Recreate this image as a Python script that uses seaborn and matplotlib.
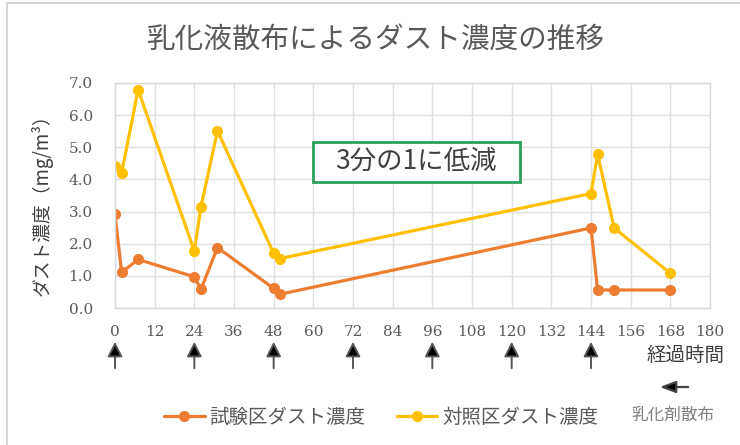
import numpy as np
import pandas as pd
import matplotlib
matplotlib.use("Agg")
import matplotlib.pyplot as plt
import seaborn as sns
from matplotlib.patches import Rectangle
from matplotlib.lines import Line2D

# ---- data ----
hours = [0, 2, 7, 24, 26, 31, 48, 50, 144, 146, 151, 168]
test_dust = [2.92, 1.11, 1.51, 0.97, 0.58, 1.88, 0.61, 0.43, 2.49, 0.56, 0.56, 0.56]
control_dust = [4.41, 4.20, 6.79, 1.77, 3.15, 5.51, 1.70, 1.54, 3.56, 4.78, 2.49, 1.08]
series_names = ["試験区ダスト濃度", "対照区ダスト濃度"]
x_ticks = list(range(0, 181, 12))
y_ticks = [0, 1, 2, 3, 4, 5, 6, 7]
spray_hours = [0, 24, 48, 72, 96, 120, 144]

title = "乳化液散布によるダスト濃度の推移"
y_label = "ダスト濃度（mg/m³）"
x_label = "経過時間"
note = "3分の1に低減"
spray_label = "乳化剤散布"

sns.set_theme(style="whitegrid")
# serif default (tick labels); CJK texts name their family explicitly
plt.rcParams['font.family'] = ['DejaVu Serif', 'Noto Sans CJK JP']
CJK = ['Noto Sans CJK JP', 'DejaVu Sans']

df = pd.DataFrame({
    "hours": hours * 2,
    "value": test_dust + control_dust,
    "series": [series_names[0]] * len(hours) + [series_names[1]] * len(hours),
})

W, H = 740, 445
fig = plt.figure(figsize=(W / 100, H / 100), dpi=100)
ax = fig.add_axes([115 / W, 1 - 308 / H, (710 - 115) / W, (308 - 83) / H])

palette = {series_names[0]: "#ED7D31", series_names[1]: "#FFC000"}
sns.lineplot(data=df, x="hours", y="value", hue="series", palette=palette,
             marker="o", markersize=8, markeredgewidth=0, linewidth=2.3,
             ax=ax, legend=False, sort=False)

ax.set_xlim(0, 180)
ax.set_ylim(0, 7)
ax.set_xticks(x_ticks)
ax.set_yticks(y_ticks)
ax.set_yticklabels([f"{v:.1f}" for v in y_ticks])
ax.set_xticklabels([str(v) for v in x_ticks])
ax.tick_params(axis="both", labelsize=11, labelcolor="#595959", length=0)
ax.tick_params(axis="x", pad=12)
ax.tick_params(axis="y", pad=16)
ax.grid(True, color="#e0e0e0", linewidth=1)
for s in ax.spines.values():
    s.set_color("#d9d9d9")
    s.set_linewidth(1)
ax.set_xlabel("")
ax.set_ylabel("")

# title
fig.text(376 / W, 1 - 40 / H, title, ha="center", va="center", fontsize=20.6, color="#595959", family=CJK)
# y label
fig.text(42 / W, 1 - 200 / H, y_label, ha="center", va="center", rotation=90, fontsize=13.5,
         color="#404040", family=CJK)
# x label
fig.text(725 / W, 1 - 355 / H, x_label, ha="right", va="center", fontsize=14, color="#404040", family=CJK)

# note box
fig.patches.append(Rectangle((313 / W, 1 - 182 / H), (520 - 313) / W, (182 - 142) / H,
                             transform=fig.transFigure, facecolor="white",
                             edgecolor="#2AA05A", linewidth=2, zorder=5))
fig.text(416 / W, 1 - 161 / H, note, ha="center", va="center", fontsize=19, color="#404040",
         zorder=6, family=CJK)

# spray arrows
for h in spray_hours:
    ax.annotate("", xy=(h, H - 339), xytext=(h, H - 371),
                xycoords=("data", "figure pixels"), textcoords=("data", "figure pixels"),
                arrowprops=dict(arrowstyle="-|>,head_length=0.75,head_width=0.38",
                                facecolor="black", edgecolor="#555555", lw=1.4),
                annotation_clip=False)

# legend arrow
ax.annotate("", xy=(657, H - 387), xytext=(691, H - 387),
            xycoords="figure pixels", textcoords="figure pixels",
            arrowprops=dict(arrowstyle="-|>,head_length=0.8,head_width=0.3",
                            facecolor="black", edgecolor="#444444", lw=1.6),
            annotation_clip=False)
fig.text(673 / W, 1 - 415 / H, spray_label, ha="center", va="center", fontsize=12, color="#808080",
         family=CJK)

# legend
handles = [Line2D([], [], color=palette[n], marker="o", markersize=8, markeredgewidth=0, linewidth=2.3)
           for n in series_names]
leg = fig.legend(handles, series_names, loc="center", bbox_to_anchor=(381 / W, 1 - 417 / H),
                 ncol=2, frameon=False, prop={"family": CJK, "size": 14}, handlelength=2.1,
                 columnspacing=1.6, handletextpad=0.25, borderpad=0, borderaxespad=0)
for t in leg.get_texts():
    t.set_color("#595959")

# outer border
fig.patches.append(Rectangle((7 / W, -0.05), 1.1, 1 - 3 / H + 0.05, transform=fig.transFigure,
                             fill=False, edgecolor="#d0d0d0", linewidth=1.2, zorder=-1))

fig.savefig("out.png", dpi=100)
